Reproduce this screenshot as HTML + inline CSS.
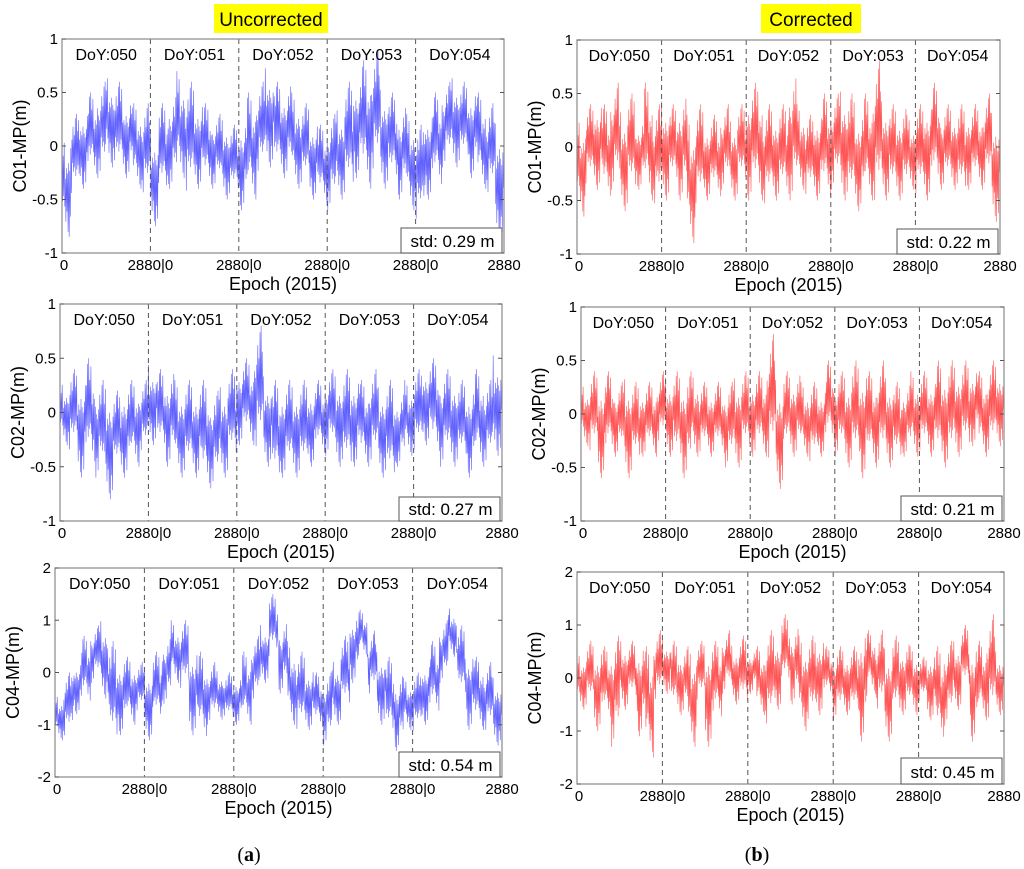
<!DOCTYPE html>
<html><head><meta charset="utf-8"><style>
body{margin:0;background:#fff;}
svg{display:block;font-family:"Liberation Sans",Arial,sans-serif;}
</style></head><body>
<svg id="fig" width="1024" height="869" viewBox="0 0 1024 869">
<rect x="214" y="4" width="114" height="29" fill="#ffff00"/>
<text x="271" y="26" font-size="19" text-anchor="middle">Uncorrected</text>
<rect x="761" y="4" width="100" height="29" fill="#ffff00"/>
<text x="811" y="26" font-size="19" text-anchor="middle">Corrected</text>
<text x="249" y="861" font-size="20" font-family="Liberation Serif,serif" text-anchor="middle">(<tspan font-weight="bold">a</tspan>)</text>
<text x="757" y="861" font-size="20" font-family="Liberation Serif,serif" text-anchor="middle">(<tspan font-weight="bold">b</tspan>)</text>
</svg>
<script>
const dayLabels=["DoY:050","DoY:051","DoY:052","DoY:053","DoY:054"];
const xTickLabels=["0","2880|0","2880|0","2880|0","2880|0","2880"];
const ticks1=[-1,-0.5,0,0.5,1];
const ticks2=[-2,-1,0,1,2];
const hiA1=[0.1,0.3,0.4,0.5,0.6,0.7,0.6,0.5,0.4,0.4,0.2,0.4,0.5,0.7,0.6,0.5,0.4,0.3,0.3,0.2,0.3,0.5,0.6,0.8,0.6,0.6,0.5,0.4,0.3,0.2,0.3,0.4,0.6,0.7,0.8,0.9,0.6,0.5,0.4,0.3,0.2,0.4,0.5,0.6,0.7,0.6,0.6,0.5,0.4,0.3];
const loA1=[-0.85,-0.5,-0.4,-0.3,-0.3,-0.2,-0.3,-0.3,-0.4,-0.5,-0.75,-0.5,-0.4,-0.3,-0.5,-0.4,-0.4,-0.4,-0.5,-0.5,-0.6,-0.5,-0.3,-0.2,-0.3,-0.3,-0.4,-0.4,-0.5,-0.55,-0.6,-0.5,-0.5,-0.3,-0.4,-0.3,-0.4,-0.4,-0.5,-0.6,-0.75,-0.5,-0.4,-0.2,-0.2,-0.2,-0.3,-0.4,-0.5,-0.9];
const hiA2=[0.3,0.4,0.4,0.5,0.3,0.3,0.2,0.3,0.3,0.3,0.5,0.4,0.4,0.3,0.3,0.3,0.3,0.2,0.3,0.4,0.5,0.5,0.8,0.4,0.3,0.3,0.3,0.3,0.3,0.3,0.4,0.4,0.4,0.4,0.3,0.4,0.3,0.3,0.2,0.3,0.4,0.5,0.5,0.4,0.4,0.3,0.3,0.4,0.3,0.6];
const loA2=[-0.3,-0.4,-0.6,-0.5,-0.6,-0.8,-0.6,-0.6,-0.5,-0.4,-0.3,-0.4,-0.5,-0.6,-0.6,-0.6,-0.7,-0.7,-0.6,-0.5,-0.3,-0.3,-0.4,-0.5,-0.7,-0.6,-0.6,-0.6,-0.5,-0.4,-0.4,-0.5,-0.6,-0.5,-0.5,-0.5,-0.6,-0.7,-0.5,-0.4,-0.4,-0.3,-0.4,-0.5,-0.5,-0.5,-0.6,-0.5,-0.5,-0.4];
const hiA3=[-0.4,0.0,0.3,0.7,0.9,1.1,0.6,0.4,0.3,0.2,0.2,0.4,0.7,1.0,1.0,0.6,0.4,0.2,0.1,0.0,0.0,0.4,0.7,1.0,1.5,1.0,0.6,0.4,0.2,0.0,0.0,0.3,0.7,1.2,1.2,0.8,0.5,0.3,0.0,-0.1,0.0,0.3,0.6,1.0,1.3,0.9,0.5,0.3,0.2,0.0];
const loA3=[-1.3,-1.3,-0.8,-0.6,-0.2,-0.5,-1.5,-1.2,-1.0,-0.8,-1.3,-1.0,-0.6,-0.2,-0.4,-1.2,-1.3,-1.0,-0.9,-1.0,-1.0,-1.0,-0.6,-0.2,0.3,-0.4,-1.0,-1.2,-1.1,-1.1,-1.4,-1.0,-0.8,-0.2,0.3,-0.5,-1.0,-1.3,-1.5,-1.1,-1.2,-1.0,-0.8,-0.2,0.3,-0.6,-1.1,-1.1,-1.2,-1.4];
const hiB1=[0.3,0.4,0.5,0.4,0.6,0.4,0.5,0.3,0.6,0.4,0.5,0.4,0.5,0.3,0.4,0.3,0.3,0.4,0.3,0.4,0.6,0.6,0.4,0.4,0.4,0.7,0.4,0.3,0.4,0.5,0.5,0.6,0.5,0.4,0.5,0.8,0.5,0.4,0.4,0.3,0.4,0.5,0.6,0.4,0.4,0.4,0.4,0.4,0.5,0.4];
const loB1=[-0.65,-0.4,-0.4,-0.5,-0.4,-0.6,-0.5,-0.4,-0.5,-0.6,-0.5,-0.4,-0.5,-0.9,-0.6,-0.5,-0.5,-0.4,-0.5,-0.4,-0.5,-0.5,-0.6,-0.5,-0.5,-0.5,-0.4,-0.5,-0.5,-0.5,-0.4,-0.5,-0.6,-0.6,-0.5,-0.6,-0.5,-0.5,-0.5,-0.4,-0.5,-0.5,-0.4,-0.4,-0.4,-0.5,-0.4,-0.4,-0.4,-0.7];
const hiB2=[0.3,0.4,0.4,0.4,0.3,0.4,0.3,0.3,0.3,0.4,0.4,0.4,0.4,0.4,0.3,0.3,0.3,0.3,0.4,0.4,0.4,0.4,0.75,0.4,0.4,0.4,0.3,0.3,0.3,0.5,0.4,0.4,0.5,0.5,0.4,0.5,0.4,0.3,0.3,0.4,0.4,0.4,0.5,0.5,0.5,0.5,0.5,0.4,0.5,0.5];
const loB2=[-0.3,-0.4,-0.6,-0.4,-0.4,-0.6,-0.5,-0.4,-0.4,-0.3,-0.4,-0.5,-0.6,-0.4,-0.4,-0.4,-0.4,-0.5,-0.5,-0.4,-0.4,-0.4,-0.5,-0.7,-0.4,-0.4,-0.4,-0.5,-0.4,-0.3,-0.4,-0.5,-0.5,-0.6,-0.5,-0.5,-0.5,-0.5,-0.4,-0.4,-0.4,-0.4,-0.5,-0.5,-0.4,-0.4,-0.3,-0.4,-0.4,-0.3];
const hiB3=[0.5,0.7,0.7,0.6,0.8,0.8,0.7,0.8,0.6,0.9,0.8,0.7,0.6,0.6,0.7,0.8,0.7,0.9,0.7,0.8,0.6,0.6,0.9,0.9,1.2,1.0,0.8,0.8,0.9,0.6,0.6,0.6,0.6,1.1,0.9,0.9,0.7,0.8,0.7,0.6,0.4,0.6,0.6,0.7,0.8,1.0,0.8,0.7,1.2,0.6];
const loB3=[-0.6,-0.6,-1.0,-0.8,-1.3,-0.6,-0.5,-1.1,-1.5,-0.5,-0.3,-0.7,-0.7,-1.3,-0.5,-1.3,-0.8,-0.3,-0.5,-0.6,-0.3,-0.7,-1.0,-0.6,-0.2,-0.5,-1.0,-0.9,-0.7,-0.4,-0.8,-0.7,-0.8,-1.2,-0.3,-0.7,-1.2,-0.8,-0.7,-0.7,-0.5,-0.8,-1.2,-0.9,-0.6,-0.3,-1.2,-0.8,-0.9,-0.7];
const stdLabels=["std: 0.29 m","std: 0.27 m","std: 0.54 m","std: 0.22 m","std: 0.21 m","std: 0.45 m"];

const NS="http://www.w3.org/2000/svg";
const svg=document.getElementById('fig');
function mk(tag,attrs,parent){const e=document.createElementNS(NS,tag);for(const k in attrs)e.setAttribute(k,attrs[k]);(parent||svg).appendChild(e);return e;}
const W=[1,0.3,0.6,0.2,0.85,0.4,0.15,0.7,0.35,0.5,0.25,0.9,0.45];

const panels=[
 {id:"a1",L:62,R:504,T:39,B:253,ticks:ticks1,hi:hiA1,lo:loA1,col:"#2020ff",yl:"C01-MP(m)",sb:[401,228]},
 {id:"a2",L:60,R:502,T:304,B:521,ticks:ticks1,hi:hiA2,lo:loA2,col:"#2020ff",yl:"C02-MP(m)",sb:[399,497]},
 {id:"a3",L:55,R:502,T:568,B:777,ticks:ticks2,hi:hiA3,lo:loA3,col:"#2020ff",yl:"C04-MP(m)",sb:[399,752]},
 {id:"b1",L:577,R:1000,T:40,B:254,ticks:ticks1,hi:hiB1,lo:loB1,col:"#ff1010",yl:"C01-MP(m)",sb:[897,229]},
 {id:"b2",L:581,R:1004,T:307,B:521,ticks:ticks1,hi:hiB2,lo:loB2,col:"#ff1010",yl:"C02-MP(m)",sb:[901,496]},
 {id:"b3",L:577,R:1004,T:572,B:784,ticks:ticks2,hi:hiB3,lo:loB3,col:"#ff1010",yl:"C04-MP(m)",sb:[901,758]}
];
panels.forEach((p,pi)=>{
 const g=mk('g',{});
 
 
 const ymin=p.ticks[0],ymax=p.ticks[p.ticks.length-1];
 const ys=v=>p.B-(v-ymin)/(ymax-ymin)*(p.B-p.T);
 const n=p.hi.length;
 const xs=i=>p.L+i/n*(p.R-p.L);
 let d="",c=0;
 for(let i=0;i<n;i++){
  const m=(p.hi[i]+p.lo[i])/2;
  for(let k=0;k<16;k++){
   const v=(k%2===0)?p.hi[i]:p.lo[i];
   const w=W[c%W.length];c++;
   const y=ys(m+(v-m)*w);
   const x=xs(i+k/16);
   d+=(d?"L":"M")+x.toFixed(1)+" "+y.toFixed(1);
  }
 }
 const path=mk('path',{d:d,fill:"none",stroke:p.col,"stroke-width":0.6,"stroke-opacity":0.7},g);
 
 
 for(let k=1;k<5;k++){
  const x=p.L+k/5*(p.R-p.L);
  const ln=mk('line',{x1:x,x2:x,y1:p.T,y2:p.B,stroke:"#555","stroke-width":1,"stroke-dasharray":"5,4"},g);
  
  
 }
 mk('rect',{x:p.L,y:p.T,width:p.R-p.L,height:p.B-p.T,fill:"none",stroke:"#888","stroke-width":1.2},g);
 dayLabels.forEach((t,k)=>{
  const tx=mk('text',{x:p.L+(k+0.5)/5*(p.R-p.L),y:p.T+21,"font-size":16,"text-anchor":"middle"},g);
  tx.textContent=t;
  
  
 });
 p.ticks.forEach(v=>{
  const y=ys(v);
  mk('line',{x1:p.L,x2:p.L+4,y1:y,y2:y,stroke:"#555"},g);
  mk('line',{x1:p.R-4,x2:p.R,y1:y,y2:y,stroke:"#555"},g);
  const tx=mk('text',{x:p.L-4,y:y+5,"font-size":15,"text-anchor":"end"},g);
  tx.textContent=String(v);
  
  
 });
 xTickLabels.forEach((t,k)=>{
  const x=p.L+k/5*(p.R-p.L);
  const tx=mk('text',{x:k===0?x+2:x,y:p.B+17,"font-size":15,"text-anchor":"middle"},g);
  tx.textContent=t;
  
  
 });
 const xl=mk('text',{x:(p.L+p.R)/2,y:p.B+37,"font-size":18,"text-anchor":"middle"},g);
 xl.textContent="Epoch (2015)";
 
 
 const yc=(p.T+p.B)/2, yx=p.L-36;
 const yl=mk('text',{x:yx,y:yc,"font-size":18,"text-anchor":"middle",transform:"rotate(-90 "+yx+" "+yc+")"},g);
 yl.textContent=p.yl;
 
 
 const bx=p.sb[0],by=p.sb[1];
 const sr=mk('rect',{x:bx,y:by,width:p.R-bx-2,height:p.B-by,fill:"#fff",stroke:"#555","stroke-width":1},g);
 
 
 const st=mk('text',{x:(bx+p.R)/2,y:p.B-6,"font-size":17,"text-anchor":"middle"},g);
 st.textContent=stdLabels[pi];
 
 
});
</script>
</body></html>
